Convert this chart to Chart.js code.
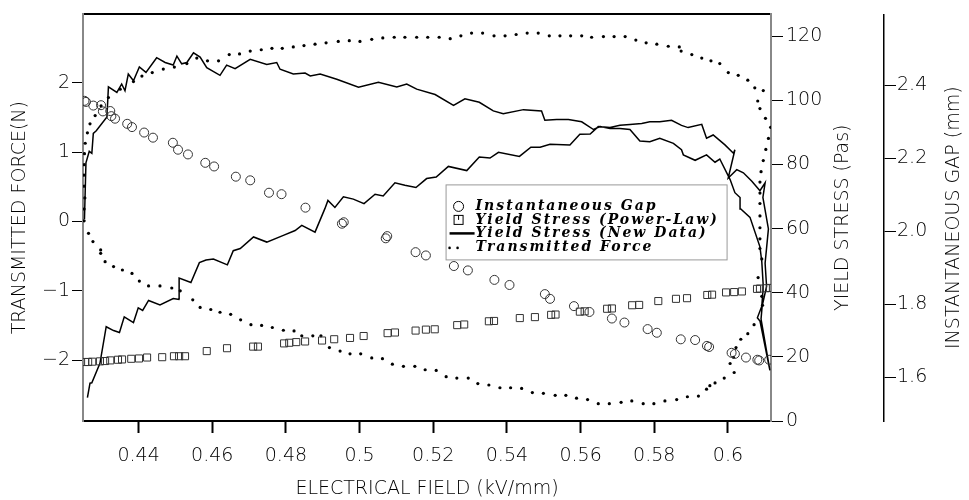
<!DOCTYPE html>
<html>
<head>
<meta charset="utf-8">
<script src="https://cdn.jsdelivr.net/npm/chart.js@4.4.1/dist/chart.umd.min.js"></script>
<style>
  html, body { margin: 0; padding: 0; background: #fff; }
</style>
</head>
<body>
<canvas id="hysteresisChart" width="969" height="500"></canvas>
<script>
// values

var xTicks = [0.44, 0.46, 0.48, 0.5, 0.52, 0.54, 0.56, 0.58, 0.6];
var xTickLabels = ['0.44', '0.46', '0.48', '0.5', '0.52', '0.54', '0.56', '0.58', '0.6'];
var forceTicks = [-2, -1, 0, 1, 2];
var forceTickLabels = ['\u22122', '\u22121', '0', '1', '2'];
var yieldTicks = [0, 20, 40, 60, 80, 100, 120];
var yieldTickLabels = ['0', '20', '40', '60', '80', '100', '120'];
var gapTicks = [1.6, 1.8, 2.0, 2.2, 2.4];
var gapTickLabels = ['1.6', '1.8', '2.0', '2.2', '2.4'];

// Instantaneous Gap (mm)
var gapX = [0.4253, 0.4257, 0.4277, 0.4298, 0.4303, 0.4323, 0.4326, 0.4336, 0.4369, 0.4382,
  0.4415, 0.4439, 0.4493, 0.4507, 0.4534, 0.4581, 0.4605, 0.4664, 0.4703, 0.4754,
  0.4788, 0.4853, 0.4952, 0.4957, 0.5071, 0.5075, 0.5152, 0.5180, 0.5256, 0.5294,
  0.5366, 0.5407, 0.5503, 0.5517, 0.5582, 0.5624, 0.5685, 0.5719, 0.5782, 0.5807,
  0.5872, 0.5911, 0.5943, 0.5949, 0.6010, 0.6019, 0.6049, 0.6080, 0.6085, 0.6112];
var gapY = [2.358, 2.355, 2.345, 2.346, 2.329, 2.330, 2.316, 2.309, 2.295, 2.286,
  2.271, 2.257, 2.243, 2.224, 2.211, 2.188, 2.178, 2.150, 2.140, 2.106,
  2.102, 2.065, 2.021, 2.025, 1.981, 1.987, 1.943, 1.934, 1.905, 1.893,
  1.867, 1.853, 1.828, 1.815, 1.795, 1.779, 1.761, 1.750, 1.732, 1.722,
  1.704, 1.702, 1.686, 1.683, 1.667, 1.664, 1.654, 1.648, 1.646, 1.648];

// Yield Stress, power-law fit (Pas)
var powerLawX = [0.4255, 0.4263, 0.4274, 0.4295, 0.4309, 0.4323, 0.4344, 0.4355, 0.4380, 0.4401,
  0.4423, 0.4464, 0.4496, 0.4510, 0.4526, 0.4585, 0.4640, 0.4711, 0.4724, 0.4795,
  0.4809, 0.4828, 0.4852, 0.4898, 0.4931, 0.4974, 0.5011, 0.5076, 0.5096, 0.5152,
  0.5180, 0.5204, 0.5265, 0.5284, 0.5351, 0.5365, 0.5435, 0.5476, 0.5520, 0.5532,
  0.5598, 0.5611, 0.5672, 0.5685, 0.5740, 0.5759, 0.5811, 0.5859, 0.5889, 0.5944,
  0.5957, 0.5995, 0.6017, 0.6038, 0.6079, 0.6087, 0.6103, 0.6114];
var powerLawY = [18.4, 18.4, 18.5, 18.6, 18.7, 18.9, 19.1, 19.2, 19.4, 19.5,
  19.8, 19.9, 20.2, 20.2, 20.2, 21.8, 22.7, 23.2, 23.2, 24.2,
  24.4, 24.6, 24.8, 25.1, 25.5, 25.9, 26.5, 27.4, 27.6, 28.2,
  28.5, 28.6, 29.9, 30.1, 31.1, 31.2, 32.1, 32.4, 33.1, 33.2,
  34.1, 34.2, 35.0, 35.1, 36.1, 36.2, 37.4, 38.1, 38.3, 39.3,
  39.4, 40.1, 40.2, 40.4, 41.2, 41.3, 41.4, 41.5];

// Yield Stress, new data (Pas) - one path, up the field then back
var newDataX = [0.4261, 0.4268, 0.4273, 0.4295, 0.4312, 0.4332, 0.4348, 0.4361, 0.4386, 0.4399,
  0.4411, 0.4427, 0.4458, 0.4494, 0.4511, 0.4510, 0.4542, 0.4565, 0.4583, 0.4603,
  0.4641, 0.4657, 0.4676, 0.4712, 0.4748, 0.4793, 0.4825, 0.4843, 0.4879, 0.4906,
  0.4914, 0.4933, 0.4956, 0.4983, 0.5012, 0.5042, 0.5064, 0.5096, 0.5123, 0.5153,
  0.5182, 0.5208, 0.5241, 0.5291, 0.5325, 0.5354, 0.5377, 0.5434, 0.5465, 0.5490,
  0.5517, 0.5571, 0.5598, 0.5626, 0.5648, 0.5680, 0.5707, 0.5734, 0.5766, 0.5788,
  0.5815, 0.5847, 0.5874, 0.5892, 0.5929, 0.5942, 0.5960, 0.5992, 0.6015, 0.6019,
  0.6001, 0.6024, 0.6042, 0.6065, 0.6087, 0.6101, 0.6095, 0.6110, 0.6101, 0.6105,
  0.6093, 0.6090, 0.6114,
  0.6087, 0.6080, 0.6092, 0.6096, 0.6092, 0.6087, 0.6060, 0.6035, 0.6033, 0.6019,
  0.6006, 0.5978, 0.5965, 0.5942, 0.5911, 0.5879, 0.5874, 0.5852, 0.5815, 0.5788,
  0.5761, 0.5734, 0.5707, 0.5680, 0.5653, 0.5635, 0.5603, 0.5567, 0.5535, 0.5503,
  0.5494, 0.5445, 0.5390, 0.5363, 0.5325, 0.5286, 0.5255, 0.5205, 0.5155, 0.5128,
  0.5101, 0.5051, 0.4997, 0.4938, 0.4893, 0.4866, 0.4852, 0.4820, 0.4784, 0.4775,
  0.4748, 0.4703, 0.4662, 0.4639, 0.4621, 0.4585, 0.4567, 0.4549, 0.4531, 0.4517,
  0.4504, 0.4494, 0.4472, 0.4449, 0.4420, 0.4402, 0.4386, 0.4372, 0.4363, 0.4354,
  0.4341, 0.4318, 0.4314, 0.4285, 0.4277, 0.4273, 0.4266, 0.4257, 0.4253];
var newDataY = [7.3, 11.8, 11.9, 18.0, 29.4, 28.2, 27.6, 32.5, 30.7, 35.3,
  34.5, 37.6, 36.2, 38.2, 37.9, 44.6, 43.2, 49.4, 50.2, 50.5,
  48.7, 53.1, 53.8, 57.4, 55.8, 57.9, 59.4, 61.0, 58.9, 66.3,
  68.8, 66.6, 69.9, 69.2, 67.8, 70.7, 70.2, 74.3, 73.5, 72.8,
  75.6, 76.1, 79.4, 78.1, 82.3, 82.0, 83.8, 82.5, 85.4, 85.4,
  86.3, 86.1, 89.4, 89.5, 91.8, 91.5, 92.2, 92.5, 92.8, 93.3,
  93.3, 93.8, 92.2, 91.5, 92.5, 88.2, 89.2, 86.1, 83.5, 84.6,
  75.8, 78.4, 77.4, 74.8, 71.8, 74.3, 69.7, 59.9, 49.2, 42.0,
  35.8, 31.8, 15.8,
  31.2, 32.2, 35.8, 42.0, 49.7, 54.3, 63.5, 66.1, 69.7, 71.2,
  75.3, 81.7, 80.7, 83.0, 81.3, 83.0, 84.6, 86.6, 88.2, 87.1,
  87.3, 90.9, 91.2, 91.2, 91.8, 90.9, 93.3, 94.0, 94.0, 93.8,
  96.7, 97.1, 95.8, 96.7, 99.4, 100.5, 98.4, 101.8, 103.5, 105.1,
  104.2, 105.6, 104.1, 106.6, 108.2, 107.6, 108.5, 108.2, 109.7, 111.8,
  111.2, 112.8, 109.9, 111.0, 107.8, 110.2, 113.5, 114.8, 111.8, 111.4,
  113.8, 111.0, 111.8, 113.3, 108.7, 110.4, 106.1, 108.2, 103.0, 105.1,
  102.5, 104.2, 94.8, 90.5, 89.7, 83.5, 84.1, 80.5, 62.9];

// Transmitted Force (N)
var forceX = [0.4252, 0.4252, 0.4254, 0.4252, 0.4252, 0.4252, 0.4253, 0.4255, 0.4261, 0.4268,
  0.4282, 0.4298, 0.4318, 0.4350, 0.4386, 0.4409, 0.4437, 0.4467, 0.4497, 0.4531,
  0.4558, 0.4587, 0.4617, 0.4646, 0.4674, 0.4703, 0.4733, 0.4762, 0.4790, 0.4820,
  0.4849, 0.4879, 0.4909, 0.4942, 0.4972, 0.5001, 0.5033, 0.5063, 0.5094, 0.5123,
  0.5155, 0.5185, 0.5216, 0.5246, 0.5275, 0.5304, 0.5334, 0.5365, 0.5395, 0.5425,
  0.5455, 0.5485, 0.5515, 0.5544, 0.5573, 0.5603, 0.5630, 0.5662, 0.5691, 0.5721,
  0.5750, 0.5778, 0.5807, 0.5838, 0.5868, 0.5873, 0.5902, 0.5929, 0.5954, 0.5978,
  0.6001, 0.6028, 0.6054, 0.6073, 0.6096, 0.6081, 0.6087, 0.6102, 0.6116, 0.6110,
  0.6103, 0.6096, 0.6090, 0.6087, 0.6087, 0.6087, 0.6087, 0.6087, 0.6087, 0.6087,
  0.6092, 0.6082, 0.6092, 0.6094, 0.6071, 0.6054, 0.6035, 0.6022, 0.6015, 0.6006,
  0.6017, 0.5990, 0.5965, 0.5951, 0.5942, 0.5920, 0.5890, 0.5861, 0.5829, 0.5799,
  0.5770, 0.5739, 0.5710, 0.5678, 0.5648, 0.5619, 0.5589, 0.5560, 0.5531, 0.5499,
  0.5469, 0.5440, 0.5410, 0.5381, 0.5351, 0.5321, 0.5295, 0.5264, 0.5235, 0.5208,
  0.5178, 0.5150, 0.5119, 0.5089, 0.5062, 0.5033, 0.5003, 0.4974, 0.4947, 0.4918,
  0.4895, 0.4873, 0.4843, 0.4822, 0.4793, 0.4763, 0.4734, 0.4705, 0.4677, 0.4650,
  0.4621, 0.4596, 0.4567, 0.4547, 0.4513, 0.4490, 0.4458, 0.4427, 0.4402, 0.4382,
  0.4356, 0.4332, 0.4309, 0.4297, 0.4297, 0.4276, 0.4264];
var forceY = [0.01, 0.18, 0.34, 0.51, 0.67, 0.82, 0.98, 1.13, 1.28, 1.41,
  1.53, 1.67, 1.79, 1.91, 2.02, 2.10, 2.15, 2.20, 2.23, 2.28,
  2.36, 2.32, 2.32, 2.41, 2.42, 2.46, 2.48, 2.50, 2.50, 2.52,
  2.54, 2.56, 2.58, 2.60, 2.61, 2.60, 2.63, 2.65, 2.66, 2.66,
  2.66, 2.66, 2.66, 2.64, 2.68, 2.72, 2.72, 2.68, 2.68, 2.70,
  2.72, 2.72, 2.68, 2.68, 2.68, 2.68, 2.66, 2.67, 2.67, 2.67,
  2.62, 2.58, 2.56, 2.53, 2.52, 2.46, 2.41, 2.36, 2.32, 2.28,
  2.15, 2.11, 2.04, 1.93, 1.89, 1.74, 1.63, 1.49, 1.36, 1.20,
  1.04, 0.88, 0.72, 0.57, 0.41, 0.26, 0.08, -0.09, -0.25, -0.39,
  -0.54, -0.81, -1.08, -1.21, -1.49, -1.62, -1.70, -1.82, -1.96, -2.05,
  -2.18, -2.26, -2.33, -2.37, -2.42, -2.52, -2.53, -2.57, -2.59, -2.63,
  -2.63, -2.59, -2.61, -2.63, -2.63, -2.57, -2.55, -2.51, -2.51, -2.48,
  -2.47, -2.41, -2.40, -2.40, -2.36, -2.34, -2.26, -2.26, -2.24, -2.15,
  -2.14, -2.09, -2.09, -2.06, -1.98, -1.97, -1.91, -1.91, -1.87, -1.82,
  -1.65, -1.65, -1.65, -1.58, -1.57, -1.53, -1.50, -1.49, -1.42, -1.34,
  -1.31, -1.27, -1.24, -1.13, -1.00, -0.96, -0.93, -0.93, -0.86, -0.75,
  -0.70, -0.65, -0.58, -0.46, -0.41, -0.29, -0.17];

function pairs(xs, ys) {
  return xs.map(function (x, i) { return { x: x, y: ys[i] }; });
}

var sansFont = { family: 'DejaVu Sans', size: 19, weight: 200 };

function fixedTicks(values) {
  return function (scale) {
    scale.ticks = values.map(function (v) { return { value: v }; });
  };
}

// the right-hand titles read bottom to top, chart.js would turn them the other way
var sideTitles = {
  id: 'sideTitles',
  afterDraw: function (chart) {
    var ctx = chart.ctx;
    var midY = (chart.chartArea.top + chart.chartArea.bottom) / 2;
    var items = [
      { text: 'YIELD STRESS (Pas)', x: chart.scales.yield.left + 72 },
      { text: 'INSTANTANEOUS GAP (mm)', x: chart.scales.gap.left + 70 }
    ];
    ctx.save();
    ctx.font = '200 19px "DejaVu Sans"';
    ctx.fillStyle = '#000';
    ctx.textAlign = 'center';
    ctx.textBaseline = 'middle';
    items.forEach(function (it) {
      ctx.save();
      ctx.translate(it.x, midY);
      ctx.rotate(-Math.PI / 2);
      ctx.fillText(it.text, 0, 0);
      ctx.restore();
    });
    ctx.restore();
  }
};

// boxed legend inside the plot
var boxLegend = {
  id: 'boxLegend',
  afterDraw: function (chart) {
    var ctx = chart.ctx;
    var area = chart.chartArea;
    var left = area.left + 0.527 * (area.right - area.left);
    var top = area.top + 170;
    var w = 281, h = 75;
    var row0 = top + 22, step = 13.5;
    ctx.save();
    ctx.fillStyle = '#fff';
    ctx.fillRect(left, top, w, h);
    ctx.strokeStyle = '#999';
    ctx.lineWidth = 1;
    ctx.strokeRect(left + 0.5, top + 0.5, w, h);

    ctx.font = 'italic bold 14px "DejaVu Serif"';
    ctx.letterSpacing = '2px';
    ctx.fillStyle = '#000';
    ctx.textBaseline = 'middle';
    chart.data.datasets.forEach(function (ds, i) {
      var y = row0 + i * step;
      var sx = left + 13;
      ctx.strokeStyle = '#000';
      ctx.fillStyle = '#000';
      if (ds.legendMark === 'circle') {
        ctx.lineWidth = 1;
        ctx.beginPath();
        ctx.arc(sx, y, 5, 0, Math.PI * 2);
        ctx.stroke();
      } else if (ds.legendMark === 'rect') {
        ctx.lineWidth = 1;
        ctx.strokeRect(sx - 4.5, y - 4.5, 9, 9);
        ctx.beginPath();
        ctx.moveTo(sx, y - 4.5);
        ctx.lineTo(sx, y);
        ctx.stroke();
      } else if (ds.legendMark === 'line') {
        ctx.lineWidth = 2.5;
        ctx.beginPath();
        ctx.moveTo(left + 4, y);
        ctx.lineTo(left + 29, y);
        ctx.stroke();
      } else {
        ctx.beginPath();
        ctx.arc(left + 4, y + 1, 1.3, 0, Math.PI * 2);
        ctx.arc(left + 12, y + 1, 1.3, 0, Math.PI * 2);
        ctx.fill();
      }
      ctx.fillText(ds.label, left + 30, y);
    });
    ctx.restore();
  }
};

new Chart(document.getElementById('hysteresisChart'), {
  type: 'scatter',
  data: {
    datasets: [
      {
        label: 'Instantaneous Gap',
        legendMark: 'circle',
        data: pairs(gapX, gapY),
        yAxisID: 'gap',
        pointStyle: 'circle',
        pointRadius: 4.5,
        pointBorderWidth: 1,
        pointBorderColor: '#333',
        pointBackgroundColor: 'rgba(0,0,0,0)'
      },
      {
        label: 'Yield Stress (Power-Law)',
        legendMark: 'rect',
        data: pairs(powerLawX, powerLawY),
        yAxisID: 'yield',
        pointStyle: 'rect',
        pointRadius: 5,
        pointBorderWidth: 1,
        pointBorderColor: '#333',
        pointBackgroundColor: 'rgba(0,0,0,0)'
      },
      {
        label: 'Yield Stress (New Data)',
        legendMark: 'line',
        data: pairs(newDataX, newDataY),
        yAxisID: 'yield',
        showLine: true,
        borderColor: '#000',
        borderWidth: 1.5,
        tension: 0,
        pointRadius: 0
      },
      {
        label: 'Transmitted Force',
        legendMark: 'dots',
        data: pairs(forceX, forceY),
        yAxisID: 'force',
        pointStyle: 'circle',
        pointRadius: 1.6,
        pointBorderWidth: 0,
        pointBackgroundColor: '#000'
      }
    ]
  },
  options: {
    responsive: false,
    animation: false,
    events: [],
    layout: { padding: 0 },
    plugins: {
      legend: { display: false },
      tooltip: { enabled: false }
    },
    scales: {
      x: {
        type: 'linear',
        position: 'bottom',
        min: 0.4249,
        max: 0.6117,
        afterFit: function (s) { s.height = 79; },
        afterBuildTicks: fixedTicks(xTicks),
        ticks: {
          font: sansFont, color: '#000', padding: 12, autoSkip: false, maxRotation: 0,
          callback: function (v, i) { return xTickLabels[i]; }
        },
        grid: { drawOnChartArea: false, tickLength: 12, tickWidth: 2, tickColor: '#000' },
        border: { color: '#000', width: 2 },
        title: { display: true, text: 'ELECTRICAL FIELD (kV/mm)', font: sansFont, color: '#000', padding: { top: 0, bottom: 0 } }
      },
      xTop: {
        type: 'linear',
        position: 'top',
        min: 0.4249,
        max: 0.6117,
        afterFit: function (s) { s.height = 9; },
        ticks: { display: false },
        grid: { display: false },
        border: { color: '#000', width: 2 }
      },
      force: {
        type: 'linear',
        position: 'left',
        min: -2.88,
        max: 2.99,
        afterFit: function (s) { s.width = 83; },
        afterBuildTicks: fixedTicks(forceTicks),
        ticks: {
          font: sansFont, color: '#000', padding: 2, autoSkip: false,
          callback: function (v, i) { return forceTickLabels[i]; }
        },
        grid: { drawOnChartArea: false, tickLength: 11, tickWidth: 1, tickColor: '#000' },
        border: { color: '#888', width: 2 },
        title: { display: true, text: 'TRANSMITTED FORCE(N)', font: sansFont, color: '#000', padding: { top: 9, bottom: 0 } }
      },
      yield: {
        type: 'linear',
        position: 'right',
        weight: 0,
        min: 0,
        max: 126.8,
        afterFit: function (s) { s.width = 113; },
        afterBuildTicks: fixedTicks(yieldTicks),
        ticks: {
          font: sansFont, color: '#000', padding: 3, autoSkip: false,
          callback: function (v, i) { return yieldTickLabels[i]; }
        },
        grid: { drawOnChartArea: false, tickLength: 12, tickWidth: 1, tickColor: '#000' },
        border: { color: '#888', width: 2 }
      },
      gap: {
        type: 'linear',
        position: 'right',
        weight: 1,
        min: 1.48,
        max: 2.595,
        afterFit: function (s) { s.width = 85; },
        afterBuildTicks: fixedTicks(gapTicks),
        ticks: {
          font: sansFont, color: '#000', padding: 1, autoSkip: false,
          callback: function (v, i) { return gapTickLabels[i]; }
        },
        grid: { drawOnChartArea: false, tickLength: 12, tickWidth: 1, tickColor: '#000' },
        border: { color: '#000', width: 1.5 }
      }
    }
  },
  plugins: [sideTitles, boxLegend]
});
</script>
</body>
</html>
